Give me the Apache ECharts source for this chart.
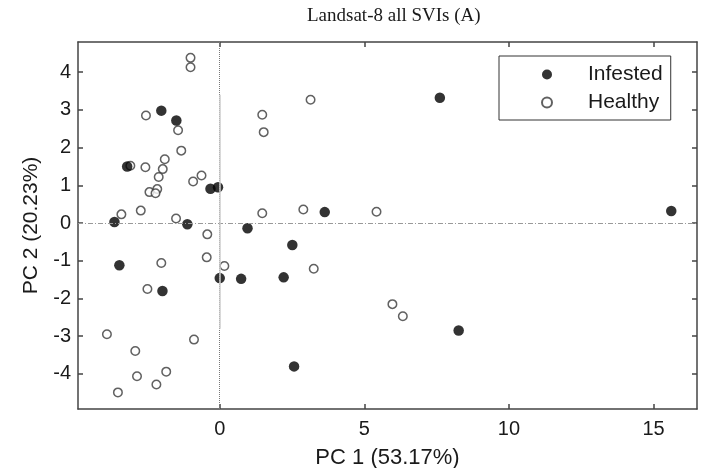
<!DOCTYPE html>
<html>
<head>
<meta charset="utf-8">
<script src="https://cdn.jsdelivr.net/npm/echarts@6/dist/echarts.min.js"></script>
<style>
  html, body { margin: 0; padding: 0; background: #fff; }
  #main { width: 702px; height: 468px; }
</style>
</head>
<body>
<div id="main"></div>
<script>
// PC scores
var infestedPC1 = [-2.02, -1.50, -3.20, -0.32, -0.06, -3.64, -1.12, 0.00, 0.74, 0.96,
                   -3.47, -1.98, 7.61, 3.63, 2.51, 2.21, 8.26, 2.57, 15.61];
var infestedPC2 = [2.98, 2.72, 1.50, 0.91, 0.95, 0.03, -0.03, -1.46, -1.48, -0.14,
                   -1.12, -1.80, 3.32, 0.29, -0.58, -1.44, -2.85, -3.80, 0.32];

var healthyPC1 = [-1.01, -1.01, -2.55, -1.44, -1.33, -3.09, -2.57, -1.90, -1.97, -2.11,
                  -0.63, -0.92, -2.16, -2.43, -2.22, 1.47, 1.52, 1.47, -2.73, -3.40,
                  -1.51, -0.43, -0.45, 0.16, -2.02, -2.50, -3.90, -0.89, -2.92, -2.86,
                  -1.85, -2.19, -3.52, 3.14, 2.89, 5.42, 3.25, 5.97, 6.33];
var healthyPC2 = [4.38, 4.13, 2.85, 2.46, 1.92, 1.52, 1.48, 1.69, 1.43, 1.22,
                  1.26, 1.10, 0.90, 0.82, 0.79, 2.87, 2.41, 0.26, 0.33, 0.23,
                  0.12, -0.30, -0.91, -1.14, -1.06, -1.75, -2.95, -3.09, -3.39, -4.06,
                  -3.94, -4.28, -4.49, 3.27, 0.36, 0.30, -1.21, -2.15, -2.47];

var xTicks = [0, 5, 10, 15];
var yTicks = [-4, -3, -2, -1, 0, 1, 2, 3, 4];

function pairs(xs, ys) {
  return xs.map(function (x, i) { return [x, ys[i]]; });
}

var chart = echarts.init(document.getElementById('main'));

var axisCol = '#444';
var textCol = '#1a1a1a';
var sans = 'Liberation Sans, Arial, sans-serif';

var option = {
  backgroundColor: '#fff',
  animation: false,
  title: {
    text: 'Landsat-8 all SVIs (A)',
    left: 302,
    top: 2,
    textStyle: {
      fontFamily: 'Liberation Serif, Times New Roman, serif',
      fontWeight: 'normal',
      fontSize: 19,
      color: textCol
    }
  },
  legend: {
    orient: 'vertical',
    left: 499,
    top: 56,
    padding: [8, 8, 7, 42],
    itemWidth: 10,
    itemHeight: 10,
    itemGap: 7,
    borderColor: '#333',
    borderWidth: 1,
    textStyle: { fontFamily: sans, fontSize: 21, color: textCol, lineHeight: 20, padding: [0, 0, 0, 31] },
    data: ['Infested', 'Healthy']
  },
  grid: { left: 78, right: 5, top: 42, bottom: 59, outerBoundsMode: 'none' },
  xAxis: [{
    type: 'value',
    position: 'bottom',
    min: -4.9,
    max: 16.5,
    name: 'PC 1 (53.17%)',
    nameLocation: 'middle',
    nameGap: 38,
    nameTextStyle: { fontFamily: sans, fontSize: 22, color: textCol },
    axisLine: { show: true, onZero: false, lineStyle: { color: axisCol, width: 1.5 } },
    axisTick: { show: true, inside: true, length: 5, customValues: xTicks, lineStyle: { color: axisCol, width: 1.5 } },
    axisLabel: { customValues: xTicks, margin: 10, fontFamily: sans, fontSize: 20, color: textCol },
    splitLine: { show: false }
  }, {
    type: 'value',
    position: 'top',
    min: -4.9,
    max: 16.5,
    axisLine: { show: true, onZero: false, lineStyle: { color: axisCol, width: 1.5 } },
    axisTick: { show: true, inside: true, length: 5, customValues: xTicks, lineStyle: { color: axisCol, width: 1.5 } },
    axisLabel: { show: false },
    splitLine: { show: false }
  }],
  yAxis: [{
    type: 'value',
    position: 'left',
    min: -4.93,
    max: 4.8,
    name: 'PC 2 (20.23%)',
    nameLocation: 'middle',
    nameGap: 36,
    nameTextStyle: { fontFamily: sans, fontSize: 21, color: textCol },
    axisLine: { show: true, onZero: false, lineStyle: { color: axisCol, width: 1.5 } },
    axisTick: { show: true, inside: true, length: 5, customValues: yTicks, lineStyle: { color: axisCol, width: 1.5 } },
    axisLabel: { customValues: yTicks, margin: 7, fontFamily: sans, fontSize: 20, color: textCol },
    splitLine: { show: false }
  }, {
    type: 'value',
    position: 'right',
    min: -4.93,
    max: 4.8,
    axisLine: { show: true, onZero: false, lineStyle: { color: axisCol, width: 1.5 } },
    axisTick: { show: true, inside: true, length: 5, customValues: yTicks, lineStyle: { color: axisCol, width: 1.5 } },
    axisLabel: { show: false },
    splitLine: { show: false }
  }],
  series: [{
    name: 'Healthy',
    type: 'scatter',
    symbol: 'circle',
    symbolSize: 8.5,
    itemStyle: { color: '#fff', borderColor: '#3a3a3a', borderWidth: 1.5 },
    data: pairs(healthyPC1, healthyPC2),
    markLine: {
      silent: true,
      symbol: 'none',
      label: { show: false },
      data: [
        { xAxis: 0, lineStyle: { type: 'dotted', color: '#777', width: 1 } },
        { yAxis: 0, lineStyle: { type: [5, 2, 1, 2], color: '#999', width: 1 } },
        [{ coord: [0, 3.4], lineStyle: { type: 'solid', color: '#ccc', width: 1.5 } }, { coord: [0, -2.8] }]
      ]
    },
    z: 2
  }, {
    name: 'Infested',
    type: 'scatter',
    symbol: 'circle',
    symbolSize: 10.5,
    itemStyle: { color: '#000' },
    data: pairs(infestedPC1, infestedPC2),
    z: 3
  }]
};

chart.setOption(option);
</script>
</body>
</html>
